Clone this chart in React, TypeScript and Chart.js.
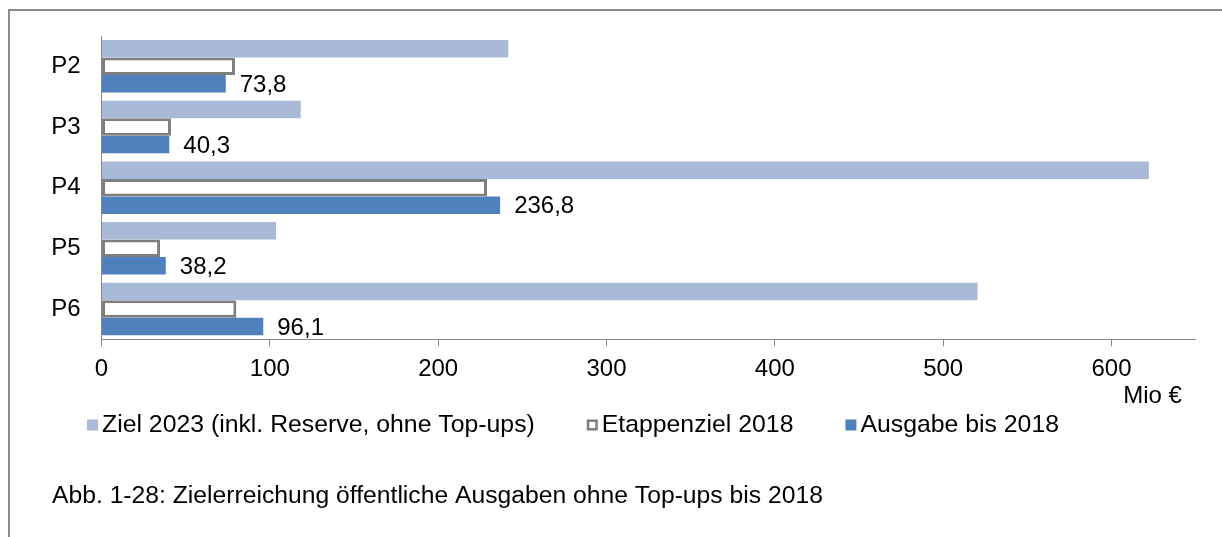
import React, { useEffect, useRef } from 'react';
import { Chart, registerables } from 'chart.js';

Chart.register(...registerables);

const categories = ['P2', 'P3', 'P4', 'P5', 'P6'];
const ziel2023 = [241.6, 118.4, 622.2, 103.7, 520.4];
const etappenziel2018 = [79.3, 41.3, 229.0, 34.8, 80.1];
const ausgabe2018 = [73.8, 40.3, 236.8, 38.2, 96.1];
const xTickValues = [0, 100, 200, 300, 400, 500, 600];
const seriesNames = ['Ziel 2023 (inkl. Reserve, ohne Top-ups)', 'Etappenziel 2018', 'Ausgabe bis 2018'];
const unitLabel = 'Mio €';
const caption = 'Abb. 1-28: Zielerreichung öffentliche Ausgaben ohne Top-ups bis 2018';

const FONT = '"Liberation Sans", Arial, sans-serif';
const COL_ZIEL = '#A9BAD8';
const COL_AUSGABE = '#4F81BD';
const COL_OUTLINE = '#7F7F7F';
const COL_AXIS = '#888888';

const valueLabelPlugin = {
  id: 'valueLabels',
  afterDatasetsDraw(chart: any) {
    const meta = chart.getDatasetMeta(2);
    const ctx = chart.ctx;
    ctx.save();
    ctx.font = `24px ${FONT}`;
    ctx.fillStyle = '#000';
    ctx.textAlign = 'left';
    ctx.textBaseline = 'middle';
    meta.data.forEach((el: any, i: number) => {
      ctx.fillText(ausgabe2018[i].toFixed(1).replace('.', ','), el.x + 14, el.y + 1.5);
    });
    ctx.restore();
  },
};

const extrasPlugin = {
  id: 'extras',
  afterDraw(chart: any) {
    const ctx = chart.ctx;
    const xScale = chart.scales.x;
    ctx.save();
    // unit label
    ctx.font = `24px ${FONT}`;
    ctx.fillStyle = '#000';
    ctx.textAlign = 'right';
    ctx.textBaseline = 'middle';
    ctx.fillText(unitLabel, xScale.getPixelForValue(640) + 3, 396);

    // legend
    ctx.font = `24.8px ${FONT}`;
    ctx.textAlign = 'left';
    let x = 87;
    const y = 425;
    const sq = 11;
    seriesNames.forEach((name, i) => {
      if (i === 1) {
        ctx.fillStyle = '#fff';
        ctx.fillRect(x, y - sq / 2, sq, sq);
        ctx.strokeStyle = COL_OUTLINE;
        ctx.lineWidth = 2.5;
        ctx.strokeRect(x + 1.25, y - sq / 2 + 1.25, sq - 2.5, sq - 2.5);
      } else {
        ctx.fillStyle = i === 0 ? COL_ZIEL : COL_AUSGABE;
        ctx.fillRect(x, y - sq / 2, sq, sq);
      }
      ctx.fillStyle = '#000';
      ctx.fillText(name, x + sq + 4, y);
      x += sq + 4 + ctx.measureText(name).width + 52;
    });

    // caption
    ctx.font = `24.7px ${FONT}`;
    ctx.fillText(caption, 52, 496);
    ctx.restore();
  },
};

export default function App() {
  const canvasRef = useRef<HTMLCanvasElement | null>(null);

  useEffect(() => {
    if (!canvasRef.current) return;
    Chart.defaults.font.family = FONT;
    const chart = new Chart(canvasRef.current, {
      type: 'bar',
      data: {
        labels: categories,
        datasets: [
          {
            label: seriesNames[0],
            data: ziel2023,
            backgroundColor: COL_ZIEL,
            borderWidth: 0,
          },
          {
            label: seriesNames[1],
            data: etappenziel2018,
            backgroundColor: '#ffffff',
            borderColor: COL_OUTLINE,
            borderWidth: 3,
            borderSkipped: false,
          },
          {
            label: seriesNames[2],
            data: ausgabe2018,
            backgroundColor: COL_AUSGABE,
            borderWidth: 0,
          },
        ],
      },
      options: {
        indexAxis: 'y',
        responsive: false,
        animation: false,
        events: [],
        datasets: {
          bar: { categoryPercentage: 0.866, barPercentage: 1 },
        },
        layout: {
          padding: { top: 36, left: 0, right: 26.3, bottom: 157.7 },
        },
        plugins: {
          legend: { display: false },
          title: { display: false },
          tooltip: { enabled: false },
        },
        scales: {
          x: {
            type: 'linear',
            position: 'bottom',
            min: 0,
            max: 650,
            afterBuildTicks: (axis: any) => {
              axis.ticks = xTickValues.map((v) => ({ value: v }));
            },
            afterFit: (axis: any) => {
              axis.height = 40;
            },
            ticks: {
              font: { size: 24 },
              color: '#000',
              padding: 9,
              callback: (v: any) => String(v),
            },
            grid: {
              display: true,
              drawOnChartArea: false,
              drawTicks: true,
              tickLength: 7,
              color: COL_AXIS,
              lineWidth: 1,
            },
            border: { display: true, color: COL_AXIS, width: 1 },
          },
          y: {
            type: 'category',
            afterFit: (axis: any) => {
              axis.width = 101.5;
            },
            ticks: {
              font: { size: 24 },
              color: '#000',
              padding: 21,
            },
            grid: { display: false, drawTicks: false },
            border: { display: true, color: COL_AXIS, width: 1 },
          },
        },
      },
      plugins: [valueLabelPlugin, extrasPlugin],
    } as any);
    return () => chart.destroy();
  }, []);

  return (
    <div style={{ position: 'fixed', left: 0, top: 0, width: 1222, height: 537, background: '#fff' }}>
      <div
        style={{
          position: 'absolute',
          left: 8,
          top: 9,
          right: 0,
          bottom: 0,
          borderLeft: '2px solid #8a8a8a',
          borderTop: '2px solid #8a8a8a',
        }}
      />
      <canvas
        ref={canvasRef}
        width={1222}
        height={537}
        style={{ position: 'absolute', left: 0, top: 0, display: 'block' }}
      />
    </div>
  );
}
